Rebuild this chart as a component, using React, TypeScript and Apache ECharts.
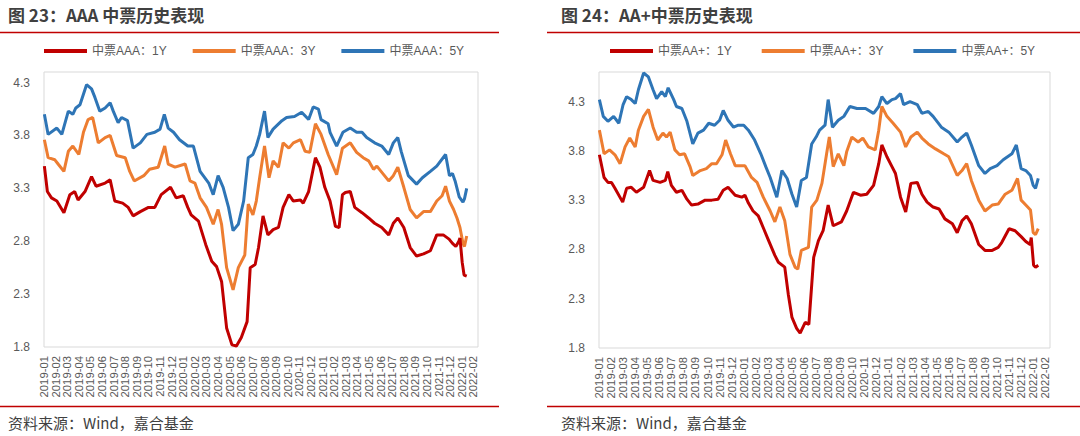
import React, { useEffect, useRef } from "react";
import * as echarts from "echarts";

// ---------- tick labels ----------
const monthTicks = [
  "2019-01", "2019-02", "2019-03", "2019-04", "2019-05", "2019-06", "2019-07", "2019-08", "2019-09", "2019-10", "2019-11", "2019-12",
  "2020-01", "2020-02", "2020-03", "2020-04", "2020-05", "2020-06", "2020-07", "2020-08", "2020-09", "2020-10", "2020-11", "2020-12",
  "2021-01", "2021-02", "2021-03", "2021-04", "2021-05", "2021-06", "2021-07", "2021-08", "2021-09", "2021-10", "2021-11", "2021-12",
  "2022-01", "2022-02",
];
const axisStartDate = "2019-01-01";
const axisEndDate = "2022-02-12";

// ---------- 中票AAA ----------
const aaa1Y: [string, number][] = [
  ["2019-01-02", 3.51], ["2019-01-10", 3.27], ["2019-01-21", 3.21], ["2019-02-04", 3.18], ["2019-02-21", 3.07],
  ["2019-03-08", 3.24], ["2019-03-21", 3.27], ["2019-03-30", 3.19], ["2019-04-17", 3.27], ["2019-05-04", 3.41],
  ["2019-05-16", 3.32], ["2019-06-09", 3.35], ["2019-06-22", 3.38], ["2019-07-04", 3.18], ["2019-07-25", 3.16],
  ["2019-08-09", 3.12], ["2019-08-22", 3.04], ["2019-09-10", 3.08], ["2019-10-01", 3.12], ["2019-10-18", 3.12],
  ["2019-11-04", 3.24], ["2019-11-28", 3.31], ["2019-12-13", 3.21], ["2020-01-01", 3.23], ["2020-01-13", 3.12],
  ["2020-01-22", 3.05], ["2020-02-10", 2.99], ["2020-02-28", 2.77], ["2020-03-15", 2.61], ["2020-03-28", 2.56],
  ["2020-04-10", 2.42], ["2020-04-23", 1.98], ["2020-05-07", 1.82], ["2020-05-19", 1.81], ["2020-06-01", 1.89],
  ["2020-06-16", 2.04], ["2020-06-24", 2.55], ["2020-07-07", 2.58], ["2020-07-16", 2.74], ["2020-07-28", 3.04],
  ["2020-08-10", 2.86], ["2020-08-24", 2.91], ["2020-09-07", 2.93], ["2020-09-19", 3.12], ["2020-10-04", 3.24],
  ["2020-10-16", 3.18], ["2020-11-04", 3.19], ["2020-11-11", 3.16], ["2020-11-25", 3.27], ["2020-12-13", 3.59],
  ["2020-12-25", 3.50], ["2021-01-07", 3.31], ["2021-01-21", 3.18], ["2021-02-04", 2.94], ["2021-02-13", 2.93],
  ["2021-02-21", 3.24], ["2021-02-28", 3.26], ["2021-03-13", 3.27], ["2021-03-25", 3.12], ["2021-04-13", 3.07],
  ["2021-04-30", 3.02], ["2021-05-16", 2.97], ["2021-06-04", 2.93], ["2021-06-22", 2.86], ["2021-07-04", 2.97],
  ["2021-07-16", 3.02], ["2021-08-01", 2.93], ["2021-08-18", 2.74], ["2021-09-04", 2.66], ["2021-09-22", 2.68],
  ["2021-10-10", 2.71], ["2021-10-27", 2.86], ["2021-11-13", 2.86], ["2021-11-28", 2.82], ["2021-12-07", 2.78],
  ["2021-12-16", 2.75], ["2021-12-24", 2.80], ["2021-12-27", 2.83], ["2022-01-02", 2.60], ["2022-01-07", 2.48],
  ["2022-01-14", 2.47],
];
const aaa3Y: [string, number][] = [
  ["2019-01-02", 3.76], ["2019-01-12", 3.59], ["2019-01-30", 3.57], ["2019-02-07", 3.53], ["2019-02-21", 3.46],
  ["2019-03-04", 3.65], ["2019-03-16", 3.70], ["2019-04-01", 3.62], ["2019-04-13", 3.83], ["2019-04-25", 3.95],
  ["2019-05-07", 3.97], ["2019-05-22", 3.73], ["2019-06-09", 3.78], ["2019-06-22", 3.80], ["2019-07-09", 3.61],
  ["2019-08-01", 3.59], ["2019-08-13", 3.46], ["2019-08-25", 3.37], ["2019-09-19", 3.42], ["2019-10-04", 3.48],
  ["2019-10-27", 3.50], ["2019-11-13", 3.70], ["2019-11-22", 3.53], ["2019-12-10", 3.50], ["2020-01-06", 3.53],
  ["2020-01-19", 3.37], ["2020-02-01", 3.35], ["2020-02-14", 3.21], ["2020-03-01", 3.12], ["2020-03-19", 2.96],
  ["2020-04-01", 3.10], ["2020-04-10", 2.96], ["2020-04-23", 2.55], ["2020-05-10", 2.34], ["2020-05-24", 2.55],
  ["2020-06-10", 2.67], ["2020-06-19", 3.15], ["2020-07-01", 3.05], ["2020-07-10", 3.18], ["2020-07-19", 3.40],
  ["2020-08-01", 3.70], ["2020-08-13", 3.40], ["2020-08-24", 3.56], ["2020-09-07", 3.50], ["2020-09-19", 3.73],
  ["2020-10-04", 3.68], ["2020-10-16", 3.73], ["2020-11-04", 3.76], ["2020-11-16", 3.65], ["2020-11-28", 3.64],
  ["2020-12-13", 3.91], ["2020-12-28", 3.81], ["2021-01-16", 3.62], ["2021-02-07", 3.43], ["2021-02-21", 3.68],
  ["2021-03-13", 3.73], ["2021-03-30", 3.64], ["2021-04-16", 3.59], ["2021-04-30", 3.56], ["2021-05-13", 3.48],
  ["2021-05-22", 3.51], ["2021-06-09", 3.43], ["2021-06-22", 3.37], ["2021-07-04", 3.42], ["2021-07-16", 3.50],
  ["2021-08-01", 3.31], ["2021-08-18", 3.10], ["2021-09-04", 3.02], ["2021-09-22", 3.08], ["2021-10-10", 3.08],
  ["2021-10-27", 3.18], ["2021-11-10", 3.23], ["2021-11-19", 3.32], ["2021-11-29", 3.18], ["2021-12-10", 3.10],
  ["2021-12-19", 3.02], ["2021-12-27", 2.93], ["2022-01-04", 2.78], ["2022-01-08", 2.75], ["2022-01-14", 2.85],
];
const aaa5Y: [string, number][] = [
  ["2019-01-02", 4.00], ["2019-01-12", 3.81], ["2019-02-04", 3.87], ["2019-02-16", 3.81], ["2019-03-04", 4.03],
  ["2019-03-16", 4.00], ["2019-03-24", 4.06], ["2019-04-04", 4.09], ["2019-04-21", 4.28], ["2019-05-04", 4.24],
  ["2019-05-13", 4.16], ["2019-05-26", 4.03], ["2019-06-09", 4.06], ["2019-06-22", 4.11], ["2019-06-30", 4.03],
  ["2019-07-13", 3.92], ["2019-07-22", 3.97], ["2019-08-07", 3.94], ["2019-08-22", 3.68], ["2019-09-10", 3.73],
  ["2019-09-27", 3.81], ["2019-10-18", 3.83], ["2019-11-01", 3.86], ["2019-11-12", 4.00], ["2019-11-22", 3.87],
  ["2019-12-06", 3.83], ["2019-12-22", 3.76], ["2020-01-13", 3.70], ["2020-01-28", 3.70], ["2020-02-14", 3.46],
  ["2020-03-07", 3.35], ["2020-03-19", 3.24], ["2020-04-01", 3.42], ["2020-04-14", 3.31], ["2020-04-28", 3.12],
  ["2020-05-10", 2.90], ["2020-05-24", 2.96], ["2020-06-07", 3.18], ["2020-06-19", 3.59], ["2020-07-01", 3.62],
  ["2020-07-10", 3.70], ["2020-07-19", 3.81], ["2020-08-01", 4.03], ["2020-08-10", 3.78], ["2020-08-24", 3.86],
  ["2020-09-16", 3.94], ["2020-09-28", 3.97], ["2020-10-19", 3.98], ["2020-11-07", 4.02], ["2020-11-25", 3.95],
  ["2020-12-07", 4.07], ["2020-12-21", 4.05], ["2020-12-28", 3.95], ["2021-01-16", 3.91], ["2021-01-21", 3.83],
  ["2021-02-07", 3.70], ["2021-02-22", 3.83], ["2021-03-13", 3.87], ["2021-03-30", 3.83], ["2021-04-13", 3.83],
  ["2021-04-25", 3.78], ["2021-05-16", 3.73], ["2021-06-04", 3.70], ["2021-06-22", 3.62], ["2021-07-04", 3.73],
  ["2021-07-16", 3.78], ["2021-07-25", 3.65], ["2021-08-13", 3.42], ["2021-09-04", 3.34], ["2021-09-19", 3.40],
  ["2021-10-10", 3.46], ["2021-10-27", 3.51], ["2021-11-19", 3.62], ["2021-11-29", 3.42], ["2021-12-07", 3.44],
  ["2021-12-14", 3.37], ["2021-12-25", 3.22], ["2022-01-04", 3.17], ["2022-01-08", 3.20], ["2022-01-14", 3.30],
];

// ---------- 中票AA+ ----------
const aap1Y: [string, number][] = [
  ["2019-01-02", 3.76], ["2019-01-14", 3.53], ["2019-01-24", 3.48], ["2019-02-02", 3.48], ["2019-02-10", 3.42],
  ["2019-02-28", 3.28], ["2019-03-10", 3.42], ["2019-03-22", 3.43], ["2019-04-04", 3.38], ["2019-04-22", 3.43],
  ["2019-05-07", 3.60], ["2019-05-16", 3.50], ["2019-06-03", 3.48], ["2019-06-16", 3.50], ["2019-06-22", 3.59],
  ["2019-07-01", 3.45], ["2019-07-14", 3.38], ["2019-07-28", 3.40], ["2019-08-10", 3.31], ["2019-08-22", 3.25],
  ["2019-09-07", 3.26], ["2019-09-25", 3.30], ["2019-10-12", 3.30], ["2019-10-28", 3.31], ["2019-11-10", 3.40],
  ["2019-11-22", 3.43], ["2019-12-10", 3.35], ["2019-12-27", 3.33], ["2020-01-04", 3.35], ["2020-01-13", 3.27],
  ["2020-01-25", 3.19], ["2020-02-07", 3.14], ["2020-02-19", 3.02], ["2020-03-03", 2.89], ["2020-03-19", 2.74],
  ["2020-03-28", 2.67], ["2020-04-13", 2.62], ["2020-04-22", 2.34], ["2020-05-01", 2.11], ["2020-05-13", 2.00],
  ["2020-05-22", 1.95], ["2020-06-04", 2.06], ["2020-06-13", 2.04], ["2020-06-25", 2.72], ["2020-07-07", 2.89],
  ["2020-07-19", 2.99], ["2020-08-01", 3.25], ["2020-08-14", 3.04], ["2020-09-04", 3.08], ["2020-09-17", 3.19],
  ["2020-10-04", 3.38], ["2020-10-22", 3.35], ["2020-11-07", 3.36], ["2020-11-24", 3.45], ["2020-12-07", 3.67],
  ["2020-12-15", 3.86], ["2020-12-28", 3.74], ["2021-01-10", 3.64], ["2021-01-19", 3.57], ["2021-02-01", 3.33],
  ["2021-02-13", 3.18], ["2021-02-25", 3.47], ["2021-03-13", 3.48], ["2021-03-25", 3.36], ["2021-04-07", 3.28],
  ["2021-04-22", 3.23], ["2021-05-07", 3.21], ["2021-05-22", 3.11], ["2021-06-10", 3.06], ["2021-06-22", 2.97],
  ["2021-07-04", 3.09], ["2021-07-16", 3.14], ["2021-07-28", 3.06], ["2021-08-16", 2.85], ["2021-09-01", 2.79],
  ["2021-09-19", 2.79], ["2021-10-04", 2.82], ["2021-10-13", 2.87], ["2021-11-01", 3.01], ["2021-11-16", 2.99],
  ["2021-12-01", 2.93], ["2021-12-13", 2.88], ["2021-12-24", 2.85], ["2021-12-27", 2.92], ["2022-01-02", 2.64],
  ["2022-01-07", 2.62], ["2022-01-14", 2.64],
];
const aap3Y: [string, number][] = [
  ["2019-01-02", 4.01], ["2019-01-14", 3.77], ["2019-01-28", 3.81], ["2019-02-10", 3.76], ["2019-02-22", 3.67],
  ["2019-03-06", 3.84], ["2019-03-18", 3.93], ["2019-04-01", 3.84], ["2019-04-09", 4.01], ["2019-04-22", 4.15],
  ["2019-05-04", 4.22], ["2019-05-16", 4.04], ["2019-05-28", 3.91], ["2019-06-10", 3.98], ["2019-06-19", 3.94],
  ["2019-06-28", 3.99], ["2019-07-10", 3.81], ["2019-07-22", 3.76], ["2019-08-04", 3.77], ["2019-08-18", 3.64],
  ["2019-08-25", 3.55], ["2019-09-13", 3.60], ["2019-09-28", 3.62], ["2019-10-12", 3.67], ["2019-10-24", 3.67],
  ["2019-11-07", 3.76], ["2019-11-16", 3.91], ["2019-11-28", 3.77], ["2019-12-10", 3.65], ["2019-12-27", 3.65],
  ["2020-01-04", 3.65], ["2020-01-21", 3.53], ["2020-02-04", 3.48], ["2020-02-19", 3.33], ["2020-03-07", 3.19],
  ["2020-03-19", 3.08], ["2020-04-01", 3.23], ["2020-04-13", 3.09], ["2020-04-26", 2.75], ["2020-05-09", 2.62],
  ["2020-05-16", 2.60], ["2020-05-25", 2.79], ["2020-06-12", 2.82], ["2020-06-20", 3.23], ["2020-07-03", 3.30],
  ["2020-07-16", 3.47], ["2020-07-28", 3.77], ["2020-08-04", 3.94], ["2020-08-14", 3.64], ["2020-08-27", 3.77],
  ["2020-09-10", 3.65], ["2020-09-17", 3.79], ["2020-09-30", 3.94], ["2020-10-16", 3.89], ["2020-10-28", 3.93],
  ["2020-11-11", 3.84], ["2020-11-28", 3.81], ["2020-12-07", 4.01], ["2020-12-15", 4.25], ["2020-12-28", 4.15],
  ["2021-01-13", 4.08], ["2021-02-01", 3.99], ["2021-02-13", 3.84], ["2021-02-25", 3.94], ["2021-03-13", 3.99],
  ["2021-03-25", 3.93], ["2021-04-10", 3.87], ["2021-04-28", 3.82], ["2021-05-19", 3.77], ["2021-06-01", 3.74],
  ["2021-06-22", 3.55], ["2021-07-04", 3.60], ["2021-07-16", 3.67], ["2021-07-28", 3.50], ["2021-08-16", 3.30],
  ["2021-09-01", 3.19], ["2021-09-19", 3.25], ["2021-10-04", 3.26], ["2021-10-22", 3.36], ["2021-11-08", 3.40],
  ["2021-11-22", 3.52], ["2021-12-01", 3.30], ["2021-12-13", 3.25], ["2021-12-25", 3.20], ["2022-01-01", 2.97],
  ["2022-01-07", 2.95], ["2022-01-14", 3.01],
];
const aap5Y: [string, number][] = [
  ["2019-01-02", 4.32], ["2019-01-12", 4.15], ["2019-01-24", 4.10], ["2019-02-07", 4.15], ["2019-02-19", 4.08],
  ["2019-03-01", 4.27], ["2019-03-10", 4.35], ["2019-03-22", 4.32], ["2019-04-01", 4.28], ["2019-04-09", 4.42],
  ["2019-04-22", 4.59], ["2019-05-04", 4.55], ["2019-05-16", 4.42], ["2019-05-25", 4.33], ["2019-06-07", 4.40],
  ["2019-06-16", 4.35], ["2019-06-23", 4.44], ["2019-07-07", 4.32], ["2019-07-14", 4.25], ["2019-07-28", 4.23],
  ["2019-08-10", 4.10], ["2019-08-25", 3.87], ["2019-09-07", 3.98], ["2019-09-21", 4.01], ["2019-10-04", 4.08],
  ["2019-10-19", 4.06], ["2019-11-01", 4.11], ["2019-11-10", 4.21], ["2019-11-22", 4.11], ["2019-12-06", 4.04],
  ["2019-12-18", 4.06], ["2020-01-01", 4.06], ["2020-01-13", 4.01], ["2020-01-29", 3.91], ["2020-02-13", 3.77],
  ["2020-02-25", 3.64], ["2020-03-07", 3.53], ["2020-03-24", 3.33], ["2020-04-06", 3.60], ["2020-04-19", 3.52],
  ["2020-05-01", 3.36], ["2020-05-13", 3.23], ["2020-05-25", 3.50], ["2020-06-07", 3.53], ["2020-06-20", 3.87],
  ["2020-07-01", 3.94], ["2020-07-10", 4.01], ["2020-07-24", 4.06], ["2020-08-01", 4.32], ["2020-08-12", 4.04],
  ["2020-08-27", 4.11], ["2020-09-10", 4.15], ["2020-09-25", 4.25], ["2020-10-13", 4.23], ["2020-11-04", 4.23],
  ["2020-11-24", 4.18], ["2020-12-07", 4.25], ["2020-12-15", 4.35], ["2020-12-28", 4.28], ["2021-01-10", 4.32],
  ["2021-01-19", 4.33], ["2021-02-01", 4.38], ["2021-02-08", 4.27], ["2021-02-23", 4.30], ["2021-03-13", 4.27],
  ["2021-03-25", 4.18], ["2021-04-10", 4.20], ["2021-04-22", 4.15], ["2021-05-13", 4.04], ["2021-06-01", 3.99],
  ["2021-06-22", 3.89], ["2021-07-04", 3.94], ["2021-07-16", 3.98], ["2021-07-28", 3.86], ["2021-08-16", 3.65],
  ["2021-09-01", 3.57], ["2021-09-14", 3.62], ["2021-10-01", 3.65], ["2021-10-17", 3.71], ["2021-11-08", 3.77],
  ["2021-11-19", 3.86], ["2021-12-01", 3.62], ["2021-12-13", 3.60], ["2021-12-25", 3.55], ["2022-01-01", 3.45],
  ["2022-01-07", 3.42], ["2022-01-14", 3.52],
];

const leftNames = ["中票AAA：1Y", "中票AAA：3Y", "中票AAA：5Y"];
const rightNames = ["中票AA+：1Y", "中票AA+：3Y", "中票AA+：5Y"];
const leftTitle = "图 23：AAA 中票历史表现";
const rightTitle = "图 24：AA+中票历史表现";
const sourceText = "资料来源：Wind，嘉合基金";
const yTicksMin = 1.8;
const yStep = 0.5;
const leftYMax = 4.4;
const rightYMax = 4.6;

const COLORS = ["#C00000", "#ED7D31", "#2E75B6"];
const FONT = "'Liberation Sans', Arial, 'Noto Sans CJK SC', sans-serif";
const CJK = "'Noto Sans CJK SC', 'Liberation Sans', sans-serif";

function monthPos(s: string): number {
  const [y, m, d] = s.split("-").map(Number);
  const dim = new Date(y, m, 0).getDate();
  return (y - 2019) * 12 + (m - 1) + (d - 1) / dim;
}
const toPts = (arr: [string, number][]) => arr.map(([d, v]) => [monthPos(d), v]);

export default function App() {
  const ref = useRef<HTMLDivElement>(null);
  useEffect(() => {
    if (!ref.current) return;
    const chart = echarts.init(ref.current, undefined, { renderer: "svg" });
    const xMin = monthPos(axisStartDate);
    const xMax = monthPos(axisEndDate);
    const grids = [
      { left: 44, top: 72, width: 434, height: 275 },
      { left: 599, top: 72, width: 451, height: 276 },
    ];
    const mkX = (gi: number) => ({
      type: "value",
      gridIndex: gi,
      min: xMin,
      max: xMax,
      interval: 1,
      axisLine: { show: false },
      axisTick: { show: false },
      splitLine: { show: false },
      axisLabel: {
        rotate: 90,
        margin: 9,
        fontSize: 11.3,
        lineHeight: 10,
        color: "#595959",
        fontFamily: FONT,
        showMinLabel: true,
        showMaxLabel: false,
        hideOverlap: false,
        formatter: (v: number) => monthTicks[Math.round(v)] ?? "",
      },
    });
    const mkY = (gi: number, max: number) => ({
      type: "value",
      gridIndex: gi,
      min: yTicksMin,
      max,
      interval: yStep,
      axisLine: { show: false },
      axisTick: { show: false },
      splitLine: { show: false },
      axisLabel: {
        margin: 14,
        fontSize: 12,
        color: "#595959",
        fontFamily: FONT,
        showMinLabel: true,
        showMaxLabel: false,
        formatter: (v: number) => v.toFixed(1),
      },
    });
    const left = [aaa1Y, aaa3Y, aaa5Y];
    const right = [aap1Y, aap3Y, aap5Y];
    const mkSeries = (names: string[], data: [string, number][][], gi: number) =>
      names.map((n, i) => ({
        type: "line",
        name: n,
        xAxisIndex: gi,
        yAxisIndex: gi,
        data: toPts(data[i]),
        showSymbol: false,
        symbol: "none",
        lineStyle: { width: 3, color: COLORS[i] },
        itemStyle: { color: COLORS[i] },
        z: 5 - i,
      }));
    const legendBase = {
      top: 40,
      icon: "rect",
      itemWidth: 43,
      itemHeight: 4,
      textStyle: { fontSize: 12, color: "#595959", fontFamily: FONT },
    };
    const red = "#C00000";
    chart.setOption({
      animation: false,
      backgroundColor: "#ffffff",
      grid: grids.map((g) => ({ ...g, show: true, borderColor: "#D9D9D9", borderWidth: 1, backgroundColor: "transparent" })),
      xAxis: [mkX(0), mkX(1)],
      yAxis: [mkY(0, leftYMax), mkY(1, rightYMax)],
      legend: [
        { ...legendBase, left: 39, itemGap: 26, data: leftNames },
        { ...legendBase, left: 605, itemGap: 30, data: rightNames },
      ],
      series: [...mkSeries(leftNames, left, 0), ...mkSeries(rightNames, right, 1)],
      graphic: [
        { type: "text", left: 8, top: 6, style: { text: leftTitle, fontSize: 17, fontWeight: "bold", fill: "#404040", fontFamily: CJK } },
        { type: "text", left: 561, top: 6, style: { text: rightTitle, fontSize: 17, fontWeight: "bold", fill: "#404040", fontFamily: CJK } },
        { type: "line", shape: { x1: 0, y1: 32.5, x2: 499, y2: 32.5 }, style: { stroke: red, lineWidth: 1.5 } },
        { type: "line", shape: { x1: 547, y1: 32.5, x2: 1080, y2: 32.5 }, style: { stroke: red, lineWidth: 1.5 } },
        { type: "line", shape: { x1: 0, y1: 406.5, x2: 499, y2: 406.5 }, style: { stroke: red, lineWidth: 1.5 } },
        { type: "line", shape: { x1: 547, y1: 406.5, x2: 1080, y2: 406.5 }, style: { stroke: red, lineWidth: 1.5 } },
        { type: "text", left: 8, top: 415, style: { text: sourceText, fontSize: 15, fill: "#404040", fontFamily: CJK } },
        { type: "text", left: 561, top: 415, style: { text: sourceText, fontSize: 15, fill: "#404040", fontFamily: CJK } },
      ],
    });
    return () => chart.dispose();
  }, []);
  return (
    <div
      ref={ref}
      style={{ position: "fixed", left: 0, top: 0, width: 1080, height: 436, background: "#fff" }}
    />
  );
}
